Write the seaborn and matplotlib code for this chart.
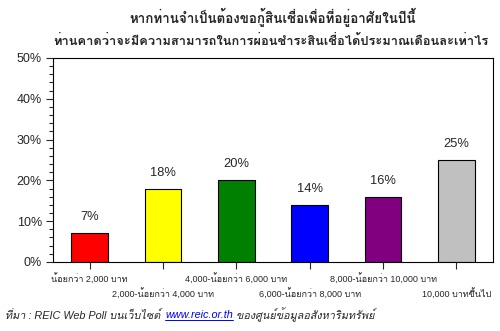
import matplotlib
matplotlib.use("Agg")
import matplotlib.pyplot as plt
from matplotlib import font_manager
from matplotlib.ft2font import FT2Font
import seaborn as sns
import pandas as pd
from matplotlib.ticker import MultipleLocator, FuncFormatter

title_lines = ["หากท่านจำเป็นต้องขอกู้สินเชื่อเพื่อที่อยู่อาศัยในปีนี้",
               "ท่านคาดว่าจะมีความสามารถในการผ่อนชำระสินเชื่อได้ประมาณเดือนละเท่าไร"]
categories = ["น้อยกว่า 2,000 บาท", "2,000-น้อยกว่า 4,000 บาท", "4,000-น้อยกว่า 6,000 บาท",
              "6,000-น้อยกว่า 8,000 บาท", "8,000-น้อยกว่า 10,000 บาท", "10,000 บาทขึ้นไป"]
values = [7, 18, 20, 14, 16, 25]
colors = ["#FF0000", "#FFFF00", "#008000", "#0000FF", "#800080", "#C0C0C0"]
source_parts = ["ที่มา : REIC Web Poll บนเว็บไซต์ ", "www.reic.or.th", " ของศูนย์ข้อมูลอสังหาริมทรัพย์"]

thai = []
for f in font_manager.fontManager.ttflist:
    try:
        cm = FT2Font(f.fname).get_charmap()
        if 0x0E01 in cm and f.name not in thai:
            thai.append(f.name)
    except Exception:
        pass

sns.set_theme(style="white")
plt.rcParams['font.family'] = ['Liberation Sans'] + thai + ['DejaVu Sans']

fig = plt.figure(figsize=(5, 3.31), dpi=100)
ax = fig.add_axes([0.106, 0.2085, 0.88, 0.6165])
df = pd.DataFrame({"cat": categories, "val": values})
sns.barplot(data=df, x="cat", y="val", hue="cat", palette=colors, legend=False,
            width=0.5, edgecolor="black", linewidth=0.8, saturation=1, ax=ax)
ax.set_ylim(0, 50)
ax.set_xlim(-0.5, 5.5)
ax.yaxis.set_major_locator(MultipleLocator(10))
ax.yaxis.set_minor_locator(MultipleLocator(2))
ax.yaxis.set_major_formatter(FuncFormatter(lambda v, p: f"{int(v)}%"))
ax.tick_params(axis="y", which="major", length=5, width=0.8, labelsize=9, direction="out", left=True, pad=3)
ax.tick_params(axis="y", which="minor", length=3, width=0.8, direction="out", left=True)
ax.tick_params(axis="x", length=5, width=0.8, direction="out", bottom=True, labelbottom=False)
for s in ax.spines.values():
    s.set_color("black"); s.set_linewidth(0.8)
ax.set_xlabel(""); ax.set_ylabel("")
for i, v in enumerate(values):
    ax.annotate(f"{v}%", (i, v), xytext=(0, 16), textcoords="offset pixels",
                ha="center", va="center", fontsize=9.3)
for i, c in enumerate(categories):
    ax.annotate(c, (i, 0), xytext=(0, -17 if i % 2 == 0 else -32), textcoords="offset pixels",
                xycoords=("data", "axes fraction"), ha="center", va="center", fontsize=6.5)

renderer = fig.canvas.get_renderer()
def fit_text(x, y, s, target_w, **kw):
    t = fig.text(x, y, s, fontsize=10, **kw)
    w = t.get_window_extent(renderer).width
    t.set_fontsize(10 * target_w / w)
    return t

fit_text(273/500, 1 - 17/331, title_lines[0], 287, ha="center", va="center", fontweight="bold")
fit_text(271/500, 1 - 41/331, title_lines[1], 435, ha="center", va="center", fontweight="bold")

x = 5
ys = 1 - 315/331
for k, s in enumerate(source_parts):
    kw = dict(ha="left", va="center", fontsize=7.8, style="italic")
    if k == 1:
        kw["color"] = "#0000EE"
    t = fig.text(x / 500, ys, s, **kw)
    bb = t.get_window_extent(renderer)
    if k == 1:
        ypix = bb.y0 + 0.5
        fig.add_artist(plt.Line2D([bb.x0 / 500, bb.x1 / 500], [ypix / 331, ypix / 331],
                                  color="#0000EE", lw=0.7, transform=fig.transFigure))
    x = bb.x1 + (2 if k == 0 else 0)
fig.savefig("out.png", dpi=100, facecolor="white")
